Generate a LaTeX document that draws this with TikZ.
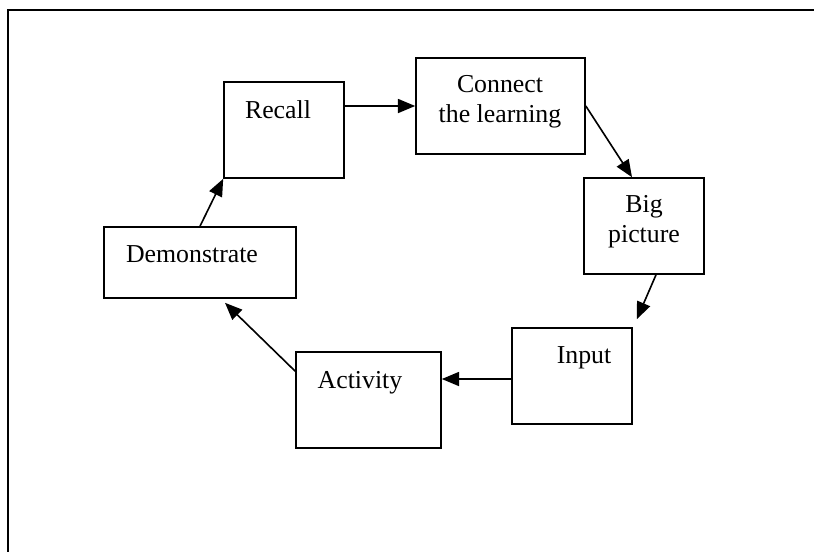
\documentclass[tikz,border=0pt]{standalone}
\usepackage{fontspec}
\setmainfont{Liberation Serif}
\usetikzlibrary{calc}
\usetikzlibrary{arrows.meta}
\newcommand{\pxu}{0.465pt}
\tikzset{
    stage/.style={draw, rectangle, line width=0.75pt, inner sep=0pt, minimum height=96*\pxu},
    stagetext/.style={font=\fontsize{12}{14}\selectfont, align=center, inner sep=0pt},
    flow/.style={-{Triangle[length=8pt, width=6.5pt]}, line width=0.75pt},
    frame/.style={line width=1.1pt}
}
\begin{document}
\begin{tikzpicture}[x=\pxu, y=-\pxu]
      \useasboundingbox (0,0) rectangle (814,552);
      \coordinate (frame-tr) at (814,10);
      \coordinate (frame-tl) at (8,10);
      \coordinate (frame-bl) at (8,552);
      \draw[frame] (frame-tr) -- (frame-tl) -- (frame-bl);

      % the boxes of the cycle
      \node[stage, minimum width=120*\pxu] (recall) at (284,130) {};
      \node[stage, minimum width=169*\pxu] (connect) at (500.5,106) {};
      \node[stage, minimum width=120*\pxu] (big) at (644,226) {};
      \node[stage, minimum width=120*\pxu] (input) at (572,376) {};
      \node[stage, minimum width=145*\pxu] (activity) at (368.5,400) {};
      \node[stage, minimum width=192*\pxu, minimum height=71*\pxu] (demonstrate) at (200,262.5) {};

      % their texts
      \node[stagetext, anchor=base] (recall-t) at (278,118) {Recall};
      \node[stagetext] (connect-t) at (500,102) {Connect\\the learning};
      \node[stagetext] (big-t) at (644,222) {Big\\picture};
      \node[stagetext, anchor=base] (input-t) at (584,363) {Input};
      \node[stagetext, anchor=base] (activity-t) at (360,388) {Activity};
      \node[stagetext, anchor=base] (demonstrate-t) at (192,262) {Demonstrate};

      \draw[flow] (recall.east |- connect.west) -- (connect.west);
      \draw[flow] (connect.east) -- ($(big.north)+(-12,0)$);
      \draw[flow] ($(big.south)+(12,0)$) -- ($(input.north east)+(4,-8)$);
      \draw[flow] ($(input.west)+(0,3)$) -- ($(activity.east |- input.west)+(0,3)$);
      \draw[flow] ($(activity.north west)+(0,20)$) -- ($(demonstrate.south)+(25,4)$);
      \draw[flow] (demonstrate.north) -- (recall.south west);
\end{tikzpicture}
\end{document}
